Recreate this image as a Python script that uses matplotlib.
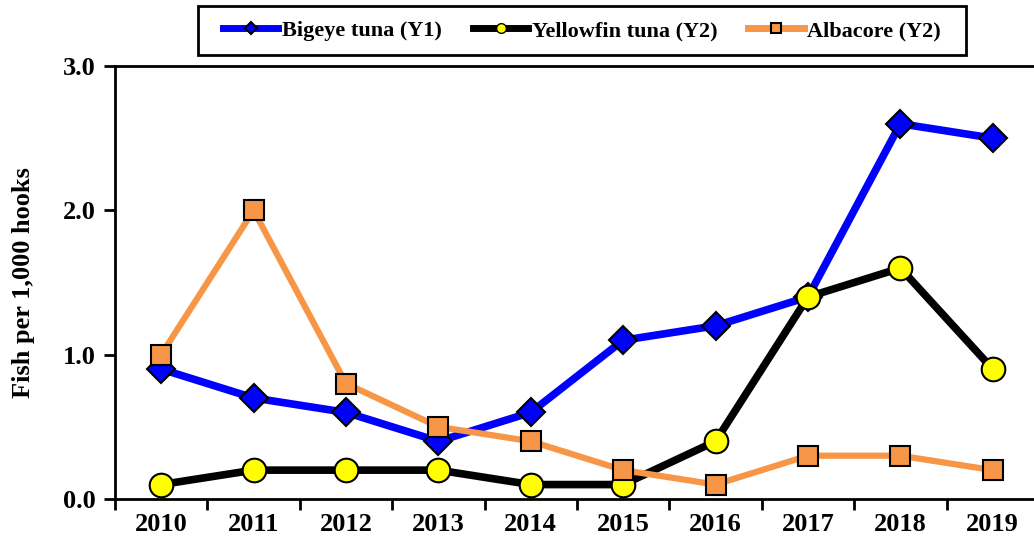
import matplotlib
matplotlib.use("Agg")
import matplotlib.pyplot as plt
import matplotlib.patches as patches
from matplotlib.lines import Line2D
from matplotlib.ticker import FixedLocator, NullFormatter

years = ["2010", "2011", "2012", "2013", "2014", "2015", "2016", "2017", "2018", "2019"]
bigeye = [0.9, 0.7, 0.6, 0.4, 0.6, 1.1, 1.2, 1.4, 2.6, 2.5]
yellowfin = [0.1, 0.2, 0.2, 0.2, 0.1, 0.1, 0.4, 1.4, 1.6, 0.9]
albacore = [1.0, 2.0, 0.8, 0.5, 0.4, 0.2, 0.1, 0.3, 0.3, 0.2]
labels = ["Bigeye tuna (Y1)", "Yellowfin tuna (Y2)", "Albacore (Y2)"]

plt.rcParams["font.family"] = ["Liberation Serif", "DejaVu Serif"]
plt.rcParams["font.weight"] = "bold"

W, H = 1034, 539
fig = plt.figure(figsize=(W / 100, H / 100), dpi=100)
# right edge of the plot area sits just past the image edge, as in the original
ax = fig.add_axes([115 / W, 40 / H, 924 / W, 433 / H])

x = list(range(len(years)))
ax.plot(x, bigeye, color="#0000FF", lw=5.5, marker="D", ms=14,
        mfc="#0000FF", mec="black", mew=1.5, zorder=3)
ax.plot(x, yellowfin, color="black", lw=5.5, marker="o", ms=17,
        mfc="#FFFF00", mec="black", mew=1.5, zorder=4)
ax.plot(x, albacore, color="#F79646", lw=4.5, marker="s", ms=15,
        mfc="#F79646", mec="black", mew=1.5, zorder=5)

ax.set_xlim(-0.5, len(years) - 0.5)
ax.set_ylim(0, 3)
ax.set_yticks([0, 1, 2, 3])
ax.set_yticklabels(["0.0", "1.0", "2.0", "3.0"])
ax.set_xticks(x)
ax.set_xticklabels(years)
ax.xaxis.set_minor_locator(FixedLocator([i + 0.5 for i in range(-1, len(years))]))
ax.xaxis.set_minor_formatter(NullFormatter())
ax.tick_params(axis="x", which="major", length=0, pad=10, labelsize=19)
ax.tick_params(axis="x", which="minor", length=8, width=2, direction="out")
ax.tick_params(axis="y", which="major", length=8, width=2, direction="out",
               pad=6, labelsize=19)
for side in ["left", "bottom", "top"]:
    ax.spines[side].set_linewidth(2)
ax.spines["right"].set_visible(False)

ax.set_ylabel("Fish per 1,000 hooks", fontsize=19, fontweight="bold", labelpad=20)

handles = [
    Line2D([], [], color="#0000FF", lw=5, marker="D", ms=6, mfc="#0000FF", mec="black", mew=1.5),
    Line2D([], [], color="black", lw=5, marker="o", ms=7, mfc="#FFFF00", mec="black", mew=1),
    Line2D([], [], color="#F79646", lw=5, marker="s", ms=7, mfc="#F79646", mec="black", mew=1.5),
]
fig.legend(handles, labels, loc="center", bbox_to_anchor=(582 / W, 1 - 31 / H),
           ncol=3, frameon=False,
           prop={"family": "Liberation Serif", "weight": "bold", "size": 16},
           handlelength=2.5, handletextpad=0.15, columnspacing=1.4,
           borderpad=0, borderaxespad=0)
box = patches.Rectangle((198 / W, 1 - 55 / H), 768 / W, 49 / H,
                        transform=fig.transFigure, fill=False,
                        edgecolor="black", linewidth=2)
fig.add_artist(box)

fig.savefig("out.png", dpi=100)
